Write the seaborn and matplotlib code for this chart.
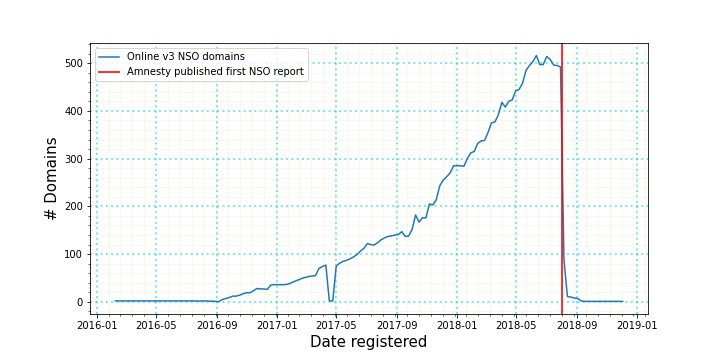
import numpy as np
import pandas as pd
import matplotlib
matplotlib.use("Agg")
import matplotlib.pyplot as plt
import matplotlib.dates as mdates
from matplotlib.ticker import AutoMinorLocator, MultipleLocator
import seaborn as sns

# ---- data (weekly counts) ----
start_date = "2016-02-08"
domains = [
    2, 2, 2, 2, 2, 2, 2, 2, 2, 2,
    2, 2, 2, 2, 2, 2, 2, 2, 2, 2,
    2, 2, 2, 2, 1.5, 2, 2, 1.5, 1.5, 1,
    0.5, 5, 7, 9, 12, 12, 14, 17, 19, 19,
    23, 28, 27, 27, 26, 35, 36, 36, 36, 36,
    37, 40, 43, 46, 49, 51, 53, 54, 55, 70,
    74, 77, 2, 2, 75, 81, 85, 87, 90, 94,
    99, 106, 112, 122, 120, 119, 124, 130, 134, 137,
    138, 140, 141, 147, 137, 138, 152, 182, 167, 176,
    176, 205, 203, 214, 243, 255, 262, 270, 285, 285,
    285, 284, 300, 312, 315, 332, 337, 338, 355, 375,
    377, 392, 418, 408, 420, 423, 442, 445, 458, 485,
    495, 503, 516, 497, 497, 514, 508, 496, 495, 492,
    88, 11, 10, 8, 7, 2, 1, 1, 1, 1,
    1, 1, 1, 1, 1, 1, 1, 1,
]
dates = pd.date_range(start_date, periods=len(domains), freq="7D")
report_date = pd.Timestamp("2018-08-01")
series_label = "Online v3 NSO domains"
report_label = "Amnesty published first NSO report"
x_label = "Date registered"
y_label = "# Domains"

df = pd.DataFrame({"date": dates, "domains": domains})

fig = plt.figure(figsize=(10, 5), dpi=72)
ax = fig.add_subplot(111)
fig.subplots_adjust(left=0.125, right=0.9, top=0.88, bottom=0.128)

sns.lineplot(data=df, x="date", y="domains", ax=ax, color="#1f77b4",
             linewidth=1.5, label=series_label)
ax.axvline(report_date, color="red", linewidth=2, alpha=0.8, label=report_label)

ax.xaxis.set_major_locator(mdates.MonthLocator(bymonth=[1, 5, 9]))
ax.xaxis.set_major_formatter(mdates.DateFormatter("%Y-%m"))
ax.xaxis.set_minor_locator(AutoMinorLocator(5))
ax.yaxis.set_major_locator(MultipleLocator(100))
ax.yaxis.set_minor_locator(AutoMinorLocator(5))

ax.grid(which="major", color="#00ced1", linestyle=":", linewidth=2, alpha=0.5)
ax.grid(which="minor", color="y", linestyle="-", linewidth=1, alpha=0.08)

ax.set_xlabel(x_label, fontsize=15)
ax.set_ylabel(y_label, fontsize=15)
ax.legend(loc="upper left")

fig.savefig("out.png", dpi=72)
